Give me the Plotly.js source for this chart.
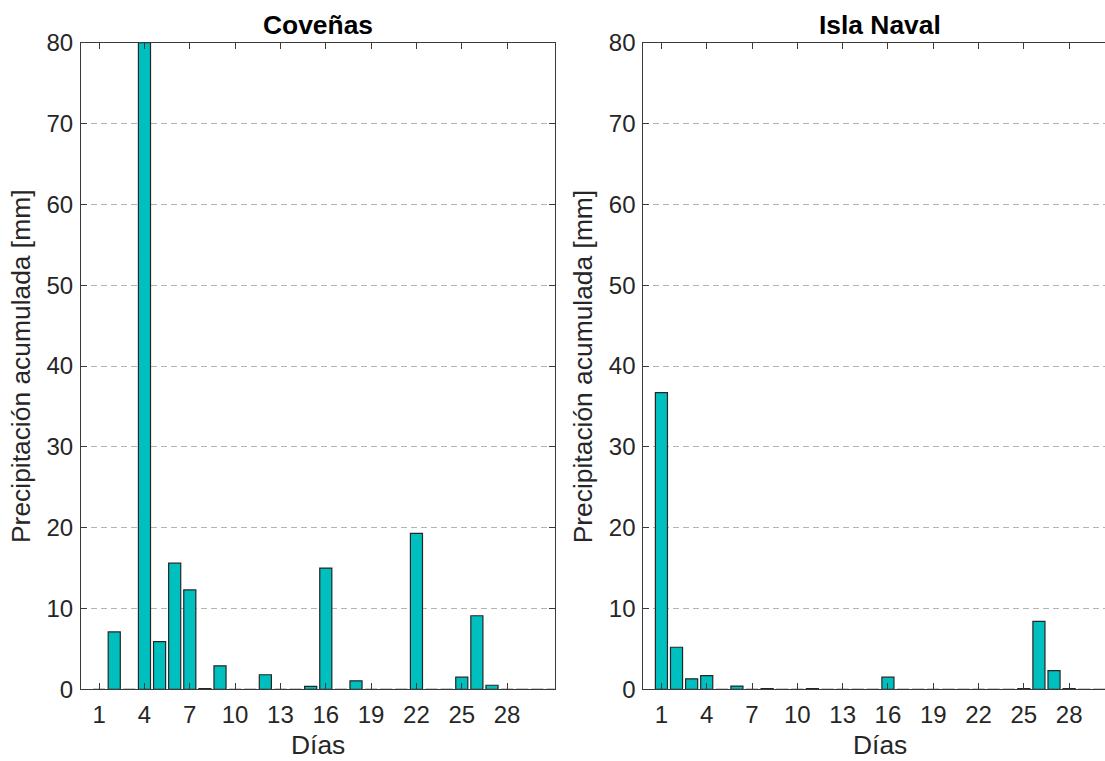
<!DOCTYPE html>
<html>
<head>
<meta charset="utf-8">
<script src="https://cdn.plot.ly/plotly-3.0.1.min.js"></script>
<style>
  html, body { margin: 0; padding: 0; overflow: hidden; background: #fff; }
  #chart { width: 1120px; height: 761px; }
</style>
</head>
<body>
<div id="chart"></div>
<script>
// Days of the month
const days = Array.from({length: 31}, (_, i) => i + 1);

// Daily accumulated precipitation [mm] — Coveñas
const covenas = [
  0, 7.1, 0, 80, 5.9, 15.6, 12.3, 0.1, 2.9, 0,
  0, 1.8, 0, 0, 0.35, 15.0, 0, 1.05, 0, 0,
  0, 19.3, 0, 0, 1.5, 9.1, 0.5, 0, 0, 0, 0
];

// Daily accumulated precipitation [mm] — Isla Naval
const islaNaval = [
  36.7, 5.2, 1.3, 1.7, 0, 0.4, 0, 0.1, 0, 0,
  0.1, 0, 0, 0, 0, 1.5, 0, 0, 0, 0,
  0, 0, 0, 0, 0.1, 8.4, 2.3, 0.1, 0, 0, 0
];

const stationNames = ['Coveñas', 'Isla Naval'];
const xTicks = [1, 4, 7, 10, 13, 16, 19, 22, 25, 28];
const yTicks = [0, 10, 20, 30, 40, 50, 60, 70, 80];

const W = 1120, H = 761;
const px = v => v / W;
const py = v => 1 - v / H;

const FONT = '"Liberation Sans", Arial, Helvetica, sans-serif';
const barColor = 'rgb(0,191,191)';
const edgeColor = '#262626';
const axisColor = '#3a3a3a';

function barTrace(y, xa, ya) {
  return {
    type: 'bar', x: days, y: y, xaxis: xa, yaxis: ya,
    width: 0.8,
    marker: { color: barColor, line: { color: edgeColor, width: 1.2 } },
    hoverinfo: 'x+y', showlegend: false
  };
}

function xAxis(domain, anchor) {
  return {
    domain: domain, range: [-0.2, 31.15], anchor: anchor, fixedrange: true,
    tickmode: 'array', tickvals: xTicks, ticktext: xTicks.map(String),
    ticks: 'inside', ticklen: 6, tickwidth: 1, tickcolor: axisColor,
    showline: true, linecolor: axisColor, linewidth: 1, mirror: 'ticks',
    showgrid: false, zeroline: false, ticklabelstandoff: 4,
    tickfont: { family: FONT, size: 24, color: '#262626' },
    automargin: false
  };
}

function yAxis(domain, anchor) {
  return {
    domain: domain, range: [0, 80], anchor: anchor, fixedrange: true,
    tickmode: 'array', tickvals: yTicks, ticktext: yTicks.map(String),
    ticks: 'inside', ticklen: 6, tickwidth: 1, tickcolor: axisColor,
    showline: true, linecolor: axisColor, linewidth: 1, mirror: 'ticks',
    showgrid: true, gridcolor: '#b4b4b4', gridwidth: 1, griddash: '6px,4px',
    zeroline: false, ticklabelstandoff: 2,
    tickfont: { family: FONT, size: 24, color: '#262626' },
    automargin: false
  };
}

const leftBox = [81, 554.7], rightBox = [643.3, 1116.7];
const plotTop = 42.7, plotBottom = 689.3;
const yDom = [py(plotBottom), py(plotTop)];
const boxes = [leftBox, rightBox];

const annotations = [];
boxes.forEach((b, i) => {
  const c = (b[0] + b[1]) / 2;
  annotations.push({
    text: '<b>' + stationNames[i] + '</b>', xref: 'paper', yref: 'paper',
    x: px(c), y: py(25), xanchor: 'center', yanchor: 'middle', showarrow: false,
    font: { family: FONT, size: 26.4, color: '#000' }
  });
  annotations.push({
    text: 'Días', xref: 'paper', yref: 'paper',
    x: px(c), y: 0, xanchor: 'center', yanchor: 'bottom', showarrow: false,
    borderpad: 0,
    font: { family: FONT, size: 26.4, color: '#262626' }
  });
  annotations.push({
    text: 'Precipitación acumulada [mm]', xref: 'paper', yref: 'paper',
    x: px(b[0] - 60), y: py((plotTop + plotBottom) / 2),
    xanchor: 'center', yanchor: 'middle', textangle: -90, showarrow: false,
    font: { family: FONT, size: 26.4, color: '#262626' }
  });
});

const layout = {
  width: W, height: H,
  margin: { l: 0, r: 0, t: 0, b: 0 },
  paper_bgcolor: '#fff', plot_bgcolor: '#fff',
  bargap: 0,
  xaxis: xAxis([px(leftBox[0]), px(leftBox[1])], 'y'),
  yaxis: yAxis(yDom, 'x'),
  xaxis2: xAxis([px(rightBox[0]), px(rightBox[1])], 'y2'),
  yaxis2: yAxis(yDom, 'x2'),
  annotations: annotations
};

Plotly.newPlot('chart', [
  barTrace(covenas, 'x', 'y'),
  barTrace(islaNaval, 'x2', 'y2')
], layout, { displayModeBar: false, staticPlot: true });
</script>
</body>
</html>
